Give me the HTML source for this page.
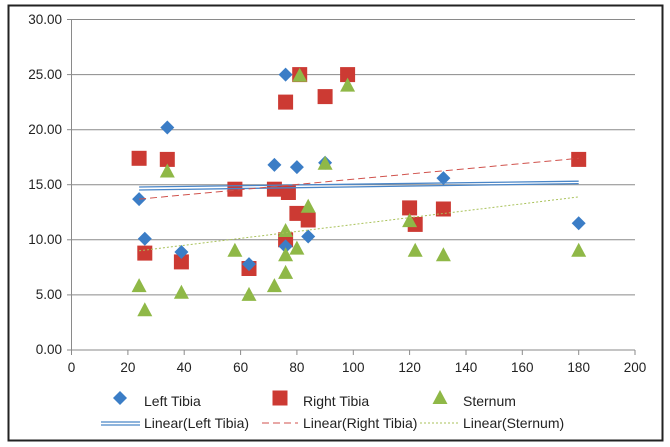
<!DOCTYPE html>
<html><head><meta charset="utf-8"><style>
html,body{margin:0;padding:0;background:#fff;}
svg{display:block;font-family:"Liberation Sans",sans-serif;}
</style></head><body>
<svg width="670" height="447" viewBox="0 0 670 447" xmlns="http://www.w3.org/2000/svg">
<defs>
<path id="d" d="M0,-7 L7,0 L0,7 L-7,0 Z" fill="#3b7dc6"/>
<rect id="s" x="-7.5" y="-7.5" width="15" height="15" fill="#cc3a33"/>
<path id="t" d="M0,-8 L7.5,6 L-7.5,6 Z" fill="#8fb847"/>
</defs>
<rect x="8.5" y="5.5" width="654" height="435" fill="#fff" stroke="#222" stroke-width="2"/>
<g stroke="#8a8a8a" stroke-width="1">
<line x1="71.5" y1="19.5" x2="635" y2="19.5"/>
<line x1="71.5" y1="74.6" x2="635" y2="74.6"/>
<line x1="71.5" y1="129.7" x2="635" y2="129.7"/>
<line x1="71.5" y1="184.7" x2="635" y2="184.7"/>
<line x1="71.5" y1="239.8" x2="635" y2="239.8"/>
<line x1="71.5" y1="294.9" x2="635" y2="294.9"/>
<line x1="71.5" y1="350" x2="635" y2="350"/>
<line x1="71.5" y1="19.5" x2="71.5" y2="350"/>
<g>
<line x1="67" y1="19.5" x2="71.5" y2="19.5"/><line x1="67" y1="74.6" x2="71.5" y2="74.6"/><line x1="67" y1="129.7" x2="71.5" y2="129.7"/><line x1="67" y1="184.7" x2="71.5" y2="184.7"/><line x1="67" y1="239.8" x2="71.5" y2="239.8"/><line x1="67" y1="294.9" x2="71.5" y2="294.9"/><line x1="67" y1="350" x2="71.5" y2="350"/>
<line x1="71.5" y1="350" x2="71.5" y2="355"/><line x1="127.9" y1="350" x2="127.9" y2="355"/><line x1="184.2" y1="350" x2="184.2" y2="355"/><line x1="240.6" y1="350" x2="240.6" y2="355"/><line x1="296.9" y1="350" x2="296.9" y2="355"/><line x1="353.3" y1="350" x2="353.3" y2="355"/><line x1="409.6" y1="350" x2="409.6" y2="355"/><line x1="466" y1="350" x2="466" y2="355"/><line x1="522.3" y1="350" x2="522.3" y2="355"/><line x1="578.7" y1="350" x2="578.7" y2="355"/><line x1="635" y1="350" x2="635" y2="355"/>
</g></g>
<g font-size="13.5" fill="#222" text-anchor="end">
<text x="62" y="24">30.00</text><text x="62" y="79">25.00</text><text x="62" y="134">20.00</text><text x="62" y="189">15.00</text><text x="62" y="244">10.00</text><text x="62" y="299">5.00</text><text x="62" y="354">0.00</text>
</g>
<g font-size="13.5" fill="#222" text-anchor="middle">
<text x="71.5" y="372">0</text><text x="127.9" y="372">20</text><text x="184.2" y="372">40</text><text x="240.6" y="372">60</text><text x="296.9" y="372">80</text><text x="353.3" y="372">100</text><text x="409.6" y="372">120</text><text x="466" y="372">140</text><text x="522.3" y="372">160</text><text x="578.7" y="372">180</text><text x="635" y="372">200</text>
</g>
<g>
<use href="#s" x="139.1" y="158.3"/><use href="#s" x="144.8" y="253.1"/><use href="#s" x="167.3" y="159.4"/><use href="#s" x="181.4" y="261.9"/><use href="#s" x="234.9" y="189.2"/><use href="#s" x="249" y="268.5"/><use href="#s" x="274.4" y="189.2"/><use href="#s" x="285.6" y="102.1"/><use href="#s" x="285.6" y="239.8"/><use href="#s" x="288.4" y="192.5"/><use href="#s" x="296.9" y="213.4"/><use href="#s" x="299.7" y="74.6"/><use href="#s" x="308.2" y="220"/><use href="#s" x="325.1" y="96.6"/><use href="#s" x="347.6" y="74.6"/><use href="#s" x="409.6" y="207.9"/><use href="#s" x="415.2" y="224.4"/><use href="#s" x="443.4" y="209"/><use href="#s" x="578.7" y="159.4"/>
</g>
<g>
<use href="#d" x="139.1" y="199.1"/><use href="#d" x="144.8" y="238.7"/><use href="#d" x="167.3" y="127.5"/><use href="#d" x="181.4" y="252"/><use href="#d" x="249" y="264.1"/><use href="#d" x="274.4" y="164.9"/><use href="#d" x="285.6" y="74.6"/><use href="#d" x="285.6" y="246.4"/><use href="#d" x="296.9" y="167.1"/><use href="#d" x="308.2" y="236.5"/><use href="#d" x="325.1" y="162.7"/><use href="#d" x="443.4" y="178.1"/><use href="#d" x="578.7" y="223.3"/>
</g>
<g>
<use href="#t" x="139.1" y="286.1"/><use href="#t" x="144.8" y="310.3"/><use href="#t" x="167.3" y="171.5"/><use href="#t" x="181.4" y="292.7"/><use href="#t" x="234.9" y="250.8"/><use href="#t" x="249" y="294.9"/><use href="#t" x="274.4" y="286.1"/><use href="#t" x="285.6" y="272.9"/><use href="#t" x="285.6" y="255.3"/><use href="#t" x="285.6" y="231"/><use href="#t" x="296.9" y="248.6"/><use href="#t" x="299.7" y="75.7"/><use href="#t" x="308.2" y="206.8"/><use href="#t" x="325.1" y="163.8"/><use href="#t" x="347.6" y="85.6"/><use href="#t" x="409.6" y="221.1"/><use href="#t" x="415.2" y="250.8"/><use href="#t" x="443.4" y="255.3"/><use href="#t" x="578.7" y="250.8"/>
</g>
<line x1="139.1" y1="187" x2="578.7" y2="181.2" stroke="#4a86c8" stroke-width="1.3"/>
<line x1="139.1" y1="190" x2="578.7" y2="183.6" stroke="#4a86c8" stroke-width="1.3"/>
<line x1="139.1" y1="199.1" x2="578.7" y2="158.3" stroke="#d0524c" stroke-width="1" stroke-dasharray="7,4"/>
<line x1="139.1" y1="250.8" x2="578.7" y2="196.9" stroke="#a9c25a" stroke-width="1" stroke-dasharray="2,2"/>
<g font-size="14" fill="#222">
<use href="#d" x="120" y="398"/>
<text x="144" y="406">Left Tibia</text>
<use href="#s" x="280" y="398"/>
<text x="303" y="406">Right Tibia</text>
<use href="#t" x="440" y="398"/>
<text x="463" y="406">Sternum</text>
<line x1="101" y1="422" x2="140" y2="422" stroke="#4a86c8" stroke-width="1.2"/>
<line x1="101" y1="425" x2="140" y2="425" stroke="#4a86c8" stroke-width="1.2"/>
<text x="144" y="428">Linear(Left Tibia)</text>
<line x1="262" y1="423" x2="298" y2="423" stroke="#d0524c" stroke-width="1" stroke-dasharray="7,4"/>
<text x="303" y="428">Linear(Right Tibia)</text>
<line x1="420" y1="423" x2="459" y2="423" stroke="#a9c25a" stroke-width="1" stroke-dasharray="2,2"/>
<text x="463" y="428">Linear(Sternum)</text>
</g>
</svg>
</body></html>
